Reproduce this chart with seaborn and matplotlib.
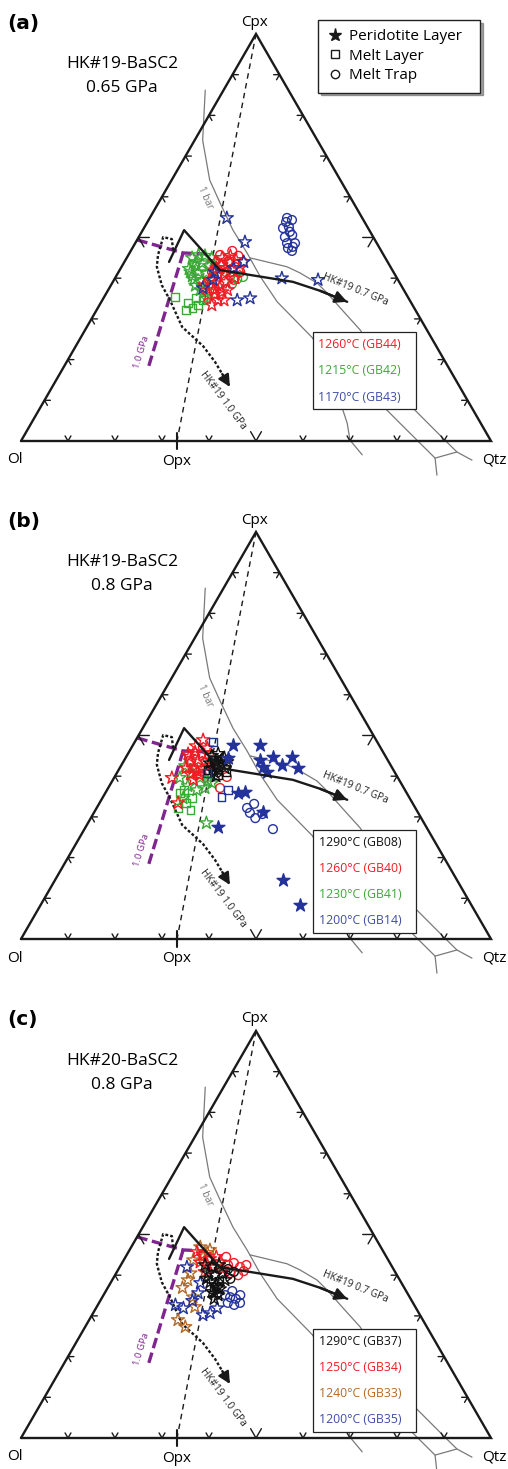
import numpy as np
import pandas as pd
import matplotlib
matplotlib.use("Agg")
import matplotlib.pyplot as plt
from matplotlib.lines import Line2D
import seaborn as sns

# ---------------- data: ternary compositions (Cpx %, Qtz %), Ol = 100 - Cpx - Qtz ----------------
# panel (a) HK#19-BaSC2, 0.65 GPa
GB44_PERID = [(44.0,19.3),(45.0,20.3),(45.5,21.8),(44.5,23.5),(42.5,22.2),(42.0,23.9),(40.8,21.5),(39.6,20.4),
              (39.1,24.1),(40.0,25.5),(37.1,22.5),(36.6,24.5),(35.9,21.9),(34.6,24.6),(33.4,23.9),(37.8,23.4),
              (37.1,25.4),(38.3,19.8),(42.5,25.3),(44.0,22.5),(42.5,20.3),(34.6,25.9),(38.8,22.0),(41.0,22.8),
              (36.0,23.2),(43.2,21.0)]
GB44_TRAP = [(45.5,23.5),(44.0,25.2),(46.7,21.6),(41.5,25.9),(44.0,22.0),(45.7,19.5),(39.6,25.5),(41.5,19.9)]
GB42_PERID = [(45.0,13.9),(45.7,14.9),(45.5,16.4),(45.0,18.1),(43.2,15.4),(43.7,16.7),(43.0,18.5),(41.5,15.3),
              (41.5,17.0),(41.3,18.8),(42.0,19.9),(39.6,17.0),(39.3,18.9),(37.1,19.6),(35.1,21.9),(44.0,15.2),
              (44.0,19.5),(40.5,16.2),(42.3,14.6),(38.2,18.0)]
GB42_TRAP = [(40.5,24.3),(39.8,26.1),(40.3,27.1),(41.5,22.9),(38.6,25.6),(38.3,21.5)]
GB42_MELT = [(35.4,15.1),(33.9,18.6),(32.7,20.1),(33.4,21.0),(34.6,21.4),(35.1,19.7),(37.1,20.6),(32.2,19.0)]
GB43_PERID = [(54.8,16.4),(48.9,23.2),(44.0,25.4),(40.0,35.5),(39.6,43.4),(34.6,28.7),(35.1,31.2),(39.6,21.1),
              (37.6,19.9),(41.5,20.5),(42.5,24.0)]
GB43_TRAP = [(54.8,29.2),(54.3,30.5),(52.3,29.6),(52.6,30.7),(50.1,31.1),(50.6,32.4),(48.6,32.3),(48.6,34.0),
             (47.4,33.1),(46.7,34.3),(53.8,29.5),(51.4,31.5),(47.7,34.0)]

# panel (b) HK#19-BaSC2, 0.8 GPa
GB08_PERID = [(45.0,18.1),(45.5,19.2),(44.5,21.0),(43.5,19.6),(43.0,21.1),(43.5,22.1),(42.0,19.9),(41.5,21.4),
              (42.0,22.4),(40.0,21.5),(44.0,20.8),(43.2,18.6),(42.6,20.5),(41.0,20.6)]
GB08_MELT = [(40.3,21.8),(44.0,19.1),(41.0,23.1),(41.5,19.1)]
GB40_PERID = [(48.9,14.3),(39.6,12.3),(39.1,17.1),(33.4,16.7),(45.5,12.8),(45.9,14.1),(45.5,15.8),(43.7,14.2),
              (44.0,15.7),(43.5,17.4),(42.0,14.1),(42.0,15.8),(41.8,17.6),(42.5,18.6),(40.5,15.8),(40.3,17.8),
              (47.4,13.5),(46.9,16.2),(44.8,13.4),(41.2,16.9)]
GB40_TRAP = [(39.8,23.9),(37.1,23.8),(44.0,18.6),(45.2,17.4)]
GB41_PERID = [(42.5,13.7),(40.8,16.0),(39.6,18.3),(38.8,20.4),(37.6,16.7),(36.6,19.1),(37.1,20.6),(34.6,17.2),
              (28.5,25.2),(38.3,21.5),(39.6,14.0)]
GB41_MELT = [(35.9,15.9),(32.2,17.3),(33.4,18.4),(34.6,19.1),(36.6,16.4),(31.7,20.2)]
GB14_PERID = [(47.7,21.3),(47.7,27.1),(44.7,31.3),(44.7,35.4),(42.0,37.9),(42.8,34.1),(44.0,28.9),(42.3,30.4),
              (41.0,31.8),(35.9,28.3),(36.1,29.7),(31.2,35.9),(27.5,28.2),(14.5,48.5),(8.4,55.2),(44.5,21.8)]
GB14_MELT = [(48.4,16.7),(36.6,25.7),(34.9,25.2),(40.8,19.2)]
GB14_TRAP = [(33.2,33.0),(31.0,33.2),(29.7,35.0),(30.7,36.0),(27.0,40.1),(32.2,32.0)]

# panel (c) HK#20-BaSC2, 0.8 GPa
GB37_PERID = [(42.5,17.9),(42.0,19.6),(42.5,20.9),(40.5,19.6),(40.0,21.3),(40.5,22.6),(38.3,21.1),(37.6,22.7),
              (35.9,22.7),(35.1,24.4),(34.2,24.0),(36.6,24.0),(38.8,24.0),(39.1,19.9),(37.0,23.4),(35.5,23.4)]
GB37_TRAP = [(41.5,23.3),(40.8,24.9),(39.1,25.0)]
GB37_MELT = [(37.1,22.4),(38.6,22.8)]
GB34_PERID = [(45.7,14.6),(45.0,16.2),(44.0,18.2),(43.2,16.5),(42.5,18.4),(42.0,20.1),(43.2,20.7),(40.8,18.7),
              (44.5,19.3),(41.5,22.1)]
GB34_TRAP = [(42.5,22.8),(43.0,23.8),(42.0,25.6),(42.5,26.7),(40.5,24.3),(40.0,26.2),(41.0,26.9),(44.5,21.4)]
GB33_PERID = [(46.9,14.7),(45.5,16.9),(43.7,14.8),(40.5,15.8),(36.9,15.9),(34.6,19.3),(32.2,20.9),(29.0,18.9),
              (27.3,21.3),(44.5,16.5),(46.2,17.1),(38.8,16.1)]
GB35_PERID = [(42.0,14.3),(38.1,19.1),(32.7,16.5),(31.9,18.6),(30.2,23.6),(30.7,24.9),(31.9,25.8),(35.6,19.9),(33.7,19.6)]
GB35_TRAP = [(35.1,25.9),(34.6,27.2),(34.2,28.6),(35.1,29.1),(33.2,27.4),(32.7,29.0),(33.2,30.0),(36.1,26.9)]

# reference lines (Cpx %, Qtz %)
CPX_OPX_CPX = [100.0, 0.0]
CPX_OPX_QTZ = [0.0, 33.2]
BAR1_A_CPX = [86.2, 73.9, 64.1, 58.5, 51.8, 46.2, 40.5, 34.2, 30.2, 25.3, 17.4, 4.4, 0.2, -3.4]
BAR1_A_QTZ = [-3.9, 1.7, 8.1, 13.1, 19.2, 25.0, 30.6, 37.4, 42.8, 49.4, 57.0, 67.2, 69.9, 74.3]
BAR1_B_CPX = [45.0, 44.0, 42.8, 41.3, 38.8, 36.4, 31.9, 27.3, 16.2, 7.6, 0.2, -2.7, -4.7]
BAR1_B_QTZ = [26.2, 30.3, 35.2, 38.7, 43.6, 46.9, 52.6, 58.5, 70.4, 80.0, 90.1, 94.1, 98.3]
BAR1_C_CPX = [25.3, 15.5, 4.4, -4.2, -8.4]
BAR1_C_QTZ = [49.4, 63.3, 78.4, 90.2, 92.7]
BAR1_D_CPX = [-4.2, -2.7]
BAR1_D_QTZ = [90.2, 94.1]
HK19_07_CPX = [44.0, 51.8, 42.0, 39.1, 36.9, 34.2]
HK19_07_QTZ = [9.5, 8.8, 21.3, 38.3, 45.2, 52.3]
HK19_10_CPX = [46.9, 49.6, 50.1, 45.7, 42.8, 38.3, 34.6, 28.0, 25.8, 23.3, 19.4, 13.3]
HK19_10_QTZ = [8.9, 7.3, 5.2, 6.3, 7.5, 10.8, 14.4, 20.3, 23.5, 27.1, 31.6, 37.8]
GPA10_H_CPX = [49.4, 46.2, 45.9]
GPA10_H_QTZ = [0.0, 11.4, 17.3]
GPA10_V_CPX = [46.2, 17.9]
GPA10_V_QTZ = [11.4, 18.1]
OPX_QTZ = 33.2

RED, GREEN, BLUE, BROWN, BLACK = "#f01c24", "#3aa935", "#24329c", "#b36a28", "#111111"
TXT_BLUE = "#3f4ea5"
PURPLE = "#80248f"

PANELS = [
    dict(letter="(a)", title=("HK#19-BaSC2", "0.65 GPa"),
         series=[(GB42_PERID, "*", GREEN, False), (GB42_TRAP, "o", GREEN, False), (GB42_MELT, "s", GREEN, False),
                 (GB44_PERID, "*", RED, False), (GB44_TRAP, "o", RED, False),
                 (GB43_TRAP, "o", BLUE, False), (GB43_PERID, "*", BLUE, False)],
         temps=[("1260°C (GB44)", RED), ("1215°C (GB42)", GREEN), ("1170°C (GB43)", TXT_BLUE)]),
    dict(letter="(b)", title=("HK#19-BaSC2", "0.8 GPa"),
         series=[(GB41_PERID, "*", GREEN, False), (GB41_MELT, "s", GREEN, False),
                 (GB40_PERID, "*", RED, False), (GB40_TRAP, "o", RED, False),
                 (GB08_PERID, "*", BLACK, False), (GB08_MELT, "s", BLACK, False),
                 (GB14_MELT, "s", BLUE, False), (GB14_TRAP, "o", BLUE, False), (GB14_PERID, "*", BLUE, True)],
         temps=[("1290°C (GB08)", BLACK), ("1260°C (GB40)", RED), ("1230°C (GB41)", GREEN), ("1200°C (GB14)", TXT_BLUE)]),
    dict(letter="(c)", title=("HK#20-BaSC2", "0.8 GPa"),
         series=[(GB33_PERID, "*", BROWN, False), (GB35_PERID, "*", BLUE, False), (GB35_TRAP, "o", BLUE, False),
                 (GB34_PERID, "*", RED, False), (GB34_TRAP, "o", RED, False),
                 (GB37_PERID, "*", BLACK, False), (GB37_TRAP, "o", BLACK, False), (GB37_MELT, "s", BLACK, False)],
         temps=[("1290°C (GB37)", BLACK), ("1250°C (GB34)", RED), ("1240°C (GB33)", BROWN), ("1200°C (GB35)", TXT_BLUE)]),
]

# ---------------- figure / layout ----------------
sns.set_theme(style="white")
plt.rcParams["font.family"] = ["Open Sans", "DejaVu Sans"]
plt.rcParams["text.color"] = "black"

W, H, DPI = 508, 1469, 100
PX = 4.7          # pixels per ternary percent
OL_X = 21         # pixel x of the Ol corner
BASES = [441, 939, 1438]
BANDS = [(0, 490), (490, 988), (988, 1469)]
SQ3 = np.sqrt(3) / 2

fig = plt.figure(figsize=(W / DPI, H / DPI), dpi=DPI)
fig.patch.set_facecolor("white")


def tern(cpx, qtz):
    cpx = np.asarray(cpx, float)
    qtz = np.asarray(qtz, float)
    return qtz + cpx / 2, cpx * SQ3


def ftext(px, py, s, **kw):
    fig.text(px / W, 1 - py / H, s, **kw)


MARK = {"*": dict(s=95), "o": dict(s=40), "s": dict(s=30)}

for k, (p, base, (top, bot)) in enumerate(zip(PANELS, BASES, BANDS)):
    ax = fig.add_axes([0, 1 - bot / H, 1, (bot - top) / H])
    ax.set_xlim(-OL_X / PX, (W - OL_X) / PX)
    ax.set_ylim((base - bot) / PX, (base - top) / PX)
    ax.axis("off")

    # triangle frame
    ax.plot([0, 100, 50, 0], [0, 0, 100 * SQ3, 0], color="k", lw=1.7,
            solid_joinstyle="miter", zorder=3)
    # chevron ticks along grid directions
    for i in range(1, 10):
        t = i / 10
        L = 2.3 if i == 5 else 1.25
        edges = [((100 * t, 0), (60, 120)),
                 ((50 * t, 100 * SQ3 * t), (0, -60)),
                 ((100 - 50 * t, 100 * SQ3 * t), (180, 240))]
        for (x0, y0), (a1, a2) in edges:
            r1, r2 = np.radians(a1), np.radians(a2)
            ax.plot([x0 + L * np.cos(r1), x0, x0 + L * np.cos(r2)],
                    [y0 + L * np.sin(r1), y0, y0 + L * np.sin(r2)],
                    color="k", lw=1.0, zorder=3)
    ax.plot([OPX_QTZ, OPX_QTZ], [-1.8, 1.8], color="k", lw=1.5, zorder=3)

    # reference lines
    x, y = tern(CPX_OPX_CPX, CPX_OPX_QTZ)
    ax.plot(x, y, color="k", lw=1.0, dashes=(4, 3.2), zorder=2)
    for cc, qq in [(BAR1_A_CPX, BAR1_A_QTZ), (BAR1_B_CPX, BAR1_B_QTZ),
                   (BAR1_C_CPX, BAR1_C_QTZ), (BAR1_D_CPX, BAR1_D_QTZ)]:
        x, y = tern(cc, qq)
        ax.plot(x, y, color="#7a7a7a", lw=0.9, zorder=2)

    x, y = tern(GPA10_H_CPX, GPA10_H_QTZ)
    ax.plot(x, y, color=PURPLE, lw=2.4, dashes=(3.2, 1.4), zorder=2)
    x, y = tern(GPA10_V_CPX, GPA10_V_QTZ)
    ax.plot(x, y, color=PURPLE, lw=2.4, dashes=(3.2, 1.4), zorder=2)

    x, y = tern(HK19_07_CPX, HK19_07_QTZ)
    ax.plot(x, y, color="k", lw=1.7, zorder=6)
    ax.annotate("", xy=(x[-1], y[-1]), xytext=(x[-2], y[-2]),
                arrowprops=dict(arrowstyle="-|>", color="k", lw=1.7,
                                mutation_scale=18, shrinkA=0, shrinkB=0), zorder=6)
    x, y = tern(HK19_10_CPX, HK19_10_QTZ)
    ax.plot(x, y, color="k", lw=1.7, dashes=(1.2, 0.9), zorder=2)
    d = np.array([x[-1] - x[-2], y[-1] - y[-2]])
    d = d / np.hypot(*d)
    ax.annotate("", xy=(x[-1], y[-1]), xytext=(x[-1] - 3.2 * d[0], y[-1] - 3.2 * d[1]),
                arrowprops=dict(arrowstyle="-|>", color="k", lw=1.5,
                                mutation_scale=18, shrinkA=0, shrinkB=0), zorder=2)

    # line labels
    for s, c_, q_, rot, col, fs in [("1 bar", 59.7, 9.3, -66, "#777777", 7.0),
                                   ("HK#19 0.7 GPa", 37.1, 52.6, -22, "#222222", 7.2),
                                   ("HK#19 1.0 GPa", 10.1, 37.9, -53, "#222222", 7.2),
                                   ("1.0 GPa", 21.9, 14.6, 73, PURPLE, 6.8)]:
        tx, ty = tern(c_, q_)
        ax.text(tx, ty, s, rotation=rot, rotation_mode="anchor", ha="center",
                va="center", color=col, fontsize=fs, zorder=7)

    # data points
    for pts, mk, col, filled in p["series"]:
        df = pd.DataFrame(pts, columns=["Cpx", "Qtz"])
        df["x"], df["y"] = tern(df["Cpx"], df["Qtz"])
        sns.scatterplot(data=df, x="x", y="y", ax=ax, marker=mk, color=col,
                        facecolor=col if filled else "none", edgecolor=col,
                        linewidth=1.0, legend=False, zorder=5, **MARK[mk])
    ax.set_xlabel("")
    ax.set_ylabel("")

    # temperature box
    n = len(p["temps"])
    btop, bbot = base - 109, base - 11
    handles = [Line2D([], [], ls="none") for _ in range(n)]
    leg = ax.legend(handles, [t for t, _ in p["temps"]],
                    labelcolor=[c for _, c in p["temps"]],
                    loc="upper left", mode="expand",
                    bbox_to_anchor=(313 / W, 1 - bbot / H, 103 / W, (bbot - btop) / H),
                    bbox_transform=fig.transFigure, borderaxespad=0,
                    handlelength=0, handletextpad=0, fontsize=8.8,
                    labelspacing=1.08 if n == 4 else 1.12, borderpad=0.48 if n == 4 else 0.45,
                    frameon=True, fancybox=False, edgecolor="#222222", framealpha=1)
    leg.get_frame().set_linewidth(0.9)
    leg.set_zorder(10)

    # corner / panel labels
    ftext(255, base - 419, "Cpx", ha="center", va="center", fontsize=11)
    ftext(15, base + 19, "Ol", ha="center", va="center", fontsize=11)
    ftext(177, base + 20, "Opx", ha="center", va="center", fontsize=11)
    ftext(494, base + 19, "Qtz", ha="center", va="center", fontsize=11)
    ftext(7, base - 418, p["letter"], ha="left", va="center", fontsize=14.5,
          fontweight="bold", family="DejaVu Sans")
    ftext(122, base - 377, p["title"][0], ha="center", va="center", fontsize=12.5)
    ftext(122, base - 353, p["title"][1], ha="center", va="center", fontsize=12.5)

# sample-type legend (panel a)
leg_handles = [Line2D([], [], ls="none", marker="*", color="k", markersize=9.5),
               Line2D([], [], ls="none", marker="s", mfc="none", mec="k", mew=1.0, markersize=5.5),
               Line2D([], [], ls="none", marker="o", mfc="none", mec="k", mew=1.0, markersize=6)]
fl = fig.legend(leg_handles, ["Peridotite Layer", "Melt Layer", "Melt Trap"],
                loc="upper left", bbox_to_anchor=(318 / W, 1 - 93 / H, 162 / W, 73 / H),
                mode="expand", borderaxespad=0, fontsize=11, labelspacing=0.3,
                borderpad=0.6, handlelength=1.0, handletextpad=0.45,
                frameon=True, fancybox=False, edgecolor="#222222", framealpha=1,
                shadow=True)
fl.get_frame().set_linewidth(1.0)

fig.savefig("out.png", dpi=DPI, facecolor="white")
